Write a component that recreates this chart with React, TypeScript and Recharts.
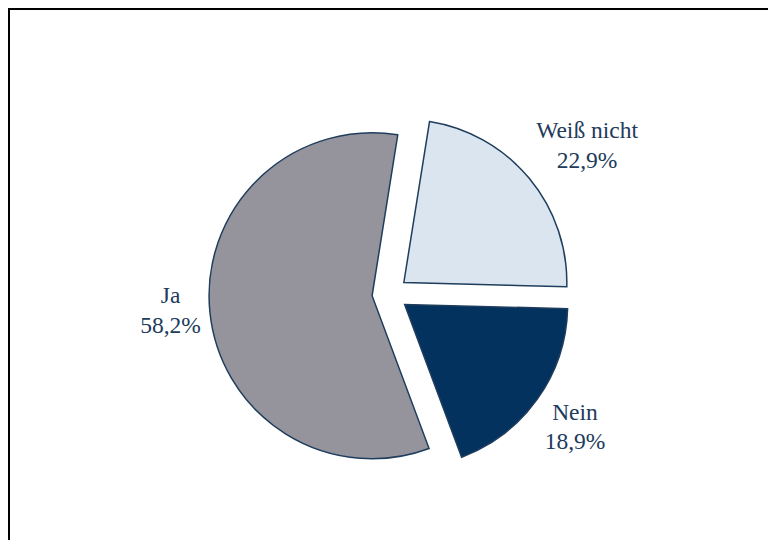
import React from 'react';
import { PieChart, Pie, Cell } from 'recharts';

const categories = ['Weiß nicht', 'Ja', 'Nein'];
const shares = [22.9, 58.2, 18.9];
const colors = ['#dbe5f0', '#95949c', '#03325f'];

const data = categories.map((name, i) => ({ name, value: shares[i] }));

const START = -1.5;
const END = 358.5;
const CX = 375;
const CY = 279;
const R = 163;
const EXPLODE = 18;
const FONT = 23.5;
const LINE = 29.5;
const LABEL_GAP = 9;
const RAD = Math.PI / 180;
const SERIF = 'Liberation Serif, Times New Roman, serif';

const total = shares.reduce((a, b) => a + b, 0);
const mids = shares.map((v, i) => {
  const before = shares.slice(0, i).reduce((a, b) => a + b, 0);
  return START + ((before + v / 2) / total) * (END - START);
});

const fmt = (v: number) => v.toFixed(1).replace('.', ',') + '%';

let ctx: CanvasRenderingContext2D | null = null;
const textWidth = (s: string) => {
  if (!ctx && typeof document !== 'undefined') {
    ctx = document.createElement('canvas').getContext('2d');
  }
  if (ctx) {
    ctx.font = `${FONT}px ${SERIF}`;
    return ctx.measureText(s).width;
  }
  return s.length * FONT * 0.46;
};

const ramp = (v: number) => Math.sign(v) * Math.min(1, Math.max(0, (Math.abs(v) - 0.15) / 0.35));

// label box sits outside the slice; its nearest edge/corner touches the ray at midAngle
const makeLabel = (own: number) => (props: any) => {
  if (props.index !== own) return null;
  const mid = props.midAngle ?? mids[own];
  const cx = props.cx ?? CX;
  const cy = props.cy ?? CY;
  const or = props.outerRadius ?? R;
  const cos = Math.cos(mid * RAD);
  const sin = -Math.sin(mid * RAD);
  const lines = [props.name ?? categories[own], fmt(props.value ?? shares[own])];
  const hw = Math.max(...lines.map(textWidth)) / 2;
  const hh = (FONT * 0.662 + LINE + FONT * 0.216) / 2;
  const px = cx + (or + LABEL_GAP) * cos;
  const py = cy + (or + LABEL_GAP) * sin;
  const bx = px + hw * ramp(cos);
  const by = py + hh * ramp(sin);
  const top = by - hh + FONT * 0.662;
  return (
    <text textAnchor="middle" fill="#213b5b" fontFamily={SERIF} fontSize={FONT}>
      <tspan x={bx} y={top}>{lines[0]}</tspan>
      <tspan x={bx} y={top + LINE}>{lines[1]}</tspan>
    </text>
  );
};

export default function App() {
  return (
    <div
      style={{
        position: 'fixed',
        top: 8,
        left: 8,
        width: 760,
        height: 532,
        overflow: 'hidden',
        background: '#fff',
      }}
    >
      <div style={{ width: 800, height: 600, border: '2px solid #000', boxSizing: 'border-box' }}>
        <PieChart width={750} height={530}>
          {categories.map((_, i) => (
            <Pie
              key={i}
              data={data}
              dataKey="value"
              nameKey="name"
              cx={CX + EXPLODE * Math.cos(mids[i] * RAD)}
              cy={CY - EXPLODE * Math.sin(mids[i] * RAD)}
              outerRadius={R}
              startAngle={START}
              endAngle={END}
              label={makeLabel(i)}
              labelLine={false}
              isAnimationActive={false}
            >
              {data.map((_, j) => (
                <Cell
                  key={j}
                  fill={j === i ? colors[j] : 'none'}
                  stroke={j === i ? '#1f3d5c' : 'none'}
                  strokeWidth={1.5}
                />
              ))}
            </Pie>
          ))}
        </PieChart>
      </div>
    </div>
  );
}
